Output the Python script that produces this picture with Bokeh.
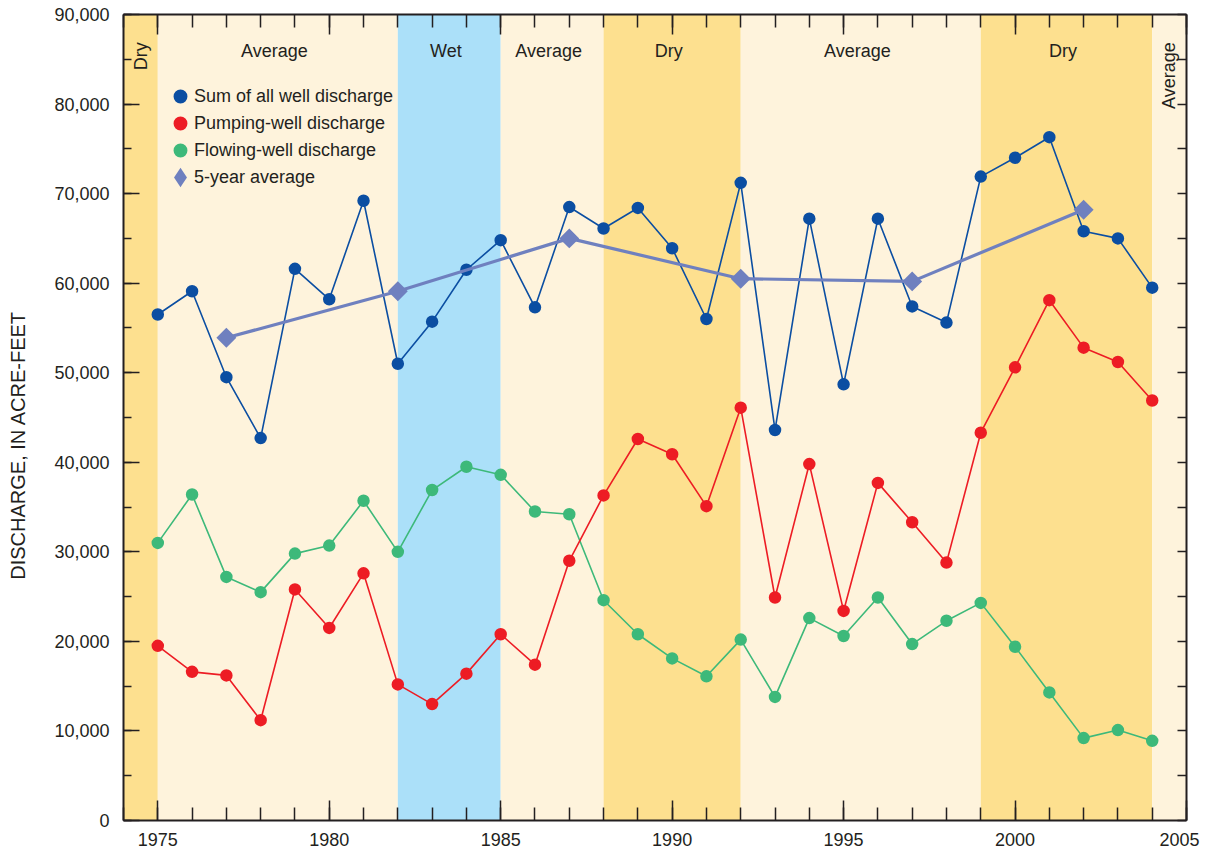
import math
from bokeh.plotting import figure
from bokeh.models import (Range1d, LinearAxis, SingleIntervalTicker, NumeralTickFormatter,
                          Legend, LegendItem, ColumnDataSource)
from bokeh.embed import file_html
from bokeh.resources import INLINE
from bokeh.core.properties import value

# ---------------- data ----------------
years = list(range(1975, 2005))
sum_discharge = [56500, 59100, 49500, 42700, 61600, 58200, 69200, 51000, 55700, 61500,
                 64800, 57300, 68500, 66100, 68400, 63900, 56000, 71200, 43600, 67200,
                 48700, 67200, 57400, 55600, 71900, 74000, 76300, 65800, 65000, 59500]
pumping = [19500, 16600, 16200, 11200, 25800, 21500, 27600, 15200, 13000, 16400,
           20800, 17400, 29000, 36300, 42600, 40900, 35100, 46100, 24900, 39800,
           23400, 37700, 33300, 28800, 43300, 50600, 58100, 52800, 51200, 46900]
flowing = [31000, 36400, 27200, 25500, 29800, 30700, 35700, 30000, 36900, 39500,
           38600, 34500, 34200, 24600, 20800, 18100, 16100, 20200, 13800, 22600,
           20600, 24900, 19700, 22300, 24300, 19400, 14300, 9200, 10100, 8900]
avg_years = [1977, 1982, 1987, 1992, 1997, 2002]
avg_values = [53900, 59100, 65000, 60500, 60200, 68200]

band_start = [1974, 1975, 1982, 1985, 1988, 1992, 1999, 2004]
band_end = [1975, 1982, 1985, 1988, 1992, 1999, 2004, 2005]
band_kind = ["Dry", "Average", "Wet", "Average", "Dry", "Average", "Dry", "Average"]

y_title = "DISCHARGE, IN ACRE-FEET"

# ---------------- style ----------------
FONT = "Liberation Sans"
FS = "18px"
DARK = "#231F20"
BLUE = "#0B4EA2"
RED = "#ED1C24"
GREEN = "#3DB97A"
AVG = "#6F80BF"
BAND_COLORS = {"Dry": "#FDE08F", "Average": "#FEF3DC", "Wet": "#ABE0F9"}
NBSP = "\u00a0"

p = figure(width=1204, height=852, x_range=Range1d(1974, 2005), y_range=Range1d(0, 90000),
           output_backend="svg", toolbar_location=None, x_axis_type=None, y_axis_type=None,
           min_border_left=123, min_border_right=18, min_border_top=14, min_border_bottom=30)
p.outline_line_color = None
p.background_fill_color = "white"
p.border_fill_color = "white"

# bands
band_src = ColumnDataSource(dict(
    left=band_start, right=band_end,
    color=[BAND_COLORS[k] for k in band_kind]))
p.quad(left="left", right="right", bottom=0, top=90000, fill_color="color",
       line_color=None, source=band_src)

# band labels
hx, hl, vx, vl = [], [], [], []
for s, e, k in zip(band_start, band_end, band_kind):
    c = (s + e) / 2
    if e - s <= 1:
        vx.append(c); vl.append(k)
    else:
        hx.append(c - 0.1); hl.append(k)
p.text(x=hx, y=[85950] * len(hx), text=hl, text_align="center", text_baseline="alphabetic",
       text_font=value(FONT), text_font_size=FS, text_color=DARK)
p.text(x=vx, y=[86900] * len(vx), text=vl, angle=math.pi / 2, text_align="right",
       text_baseline="middle", text_font=value(FONT), text_font_size=FS, text_color=DARK)

# series
def series(y, color):
    p.line(years, y, line_color=color, line_width=1.6)
    return p.scatter(years, y, marker="circle", size=9, fill_color=color,
                     line_color=color, line_width=3.5)

r_flow = series(flowing, GREEN)
r_pump = series(pumping, RED)
r_sum = series(sum_discharge, BLUE)

p.line(avg_years, avg_values, line_color=AVG, line_width=3.2)
# diamond used for the legend key (hidden beneath the rotated squares)
r_avg_key = p.scatter(avg_years, avg_values, marker="diamond", size=9, fill_color=AVG,
                      line_color=AVG, line_width=5, line_join="miter")
p.scatter(avg_years, avg_values, marker="square", angle=math.pi / 4, size=10.6,
          fill_color=AVG, line_color=AVG, line_width=3.5, line_join="miter")

# axes
def style_axis(ax, tick_in, minor_in, show_labels):
    ax.axis_line_color = DARK
    ax.axis_line_width = 2
    ax.major_tick_line_color = DARK
    ax.minor_tick_line_color = DARK
    ax.major_tick_line_width = 1.5
    ax.minor_tick_line_width = 1.5
    ax.major_tick_in = tick_in
    ax.major_tick_out = 0
    ax.minor_tick_in = minor_in
    ax.minor_tick_out = 0
    ax.major_label_text_font = FONT
    ax.major_label_text_font_size = FS
    if show_labels:
        ax.major_label_text_color = DARK
    else:
        ax.major_label_text_color = None
        ax.major_label_standoff = 0

xb = LinearAxis(ticker=SingleIntervalTicker(interval=5, num_minor_ticks=5))
style_axis(xb, 20, 13, True)
xb.major_label_standoff = 9
xb.major_label_overrides = {2005: "2005" + NBSP}
p.add_layout(xb, "below")

xt = LinearAxis(ticker=SingleIntervalTicker(interval=5, num_minor_ticks=5))
style_axis(xt, 20, 13, False)
p.add_layout(xt, "above")

yl = LinearAxis(ticker=SingleIntervalTicker(interval=10000, num_minor_ticks=2),
                formatter=NumeralTickFormatter(format="0,0"))
style_axis(yl, 16, 8, True)
yl.major_label_standoff = 14
yl.axis_label = y_title + NBSP * 10
yl.axis_label_standoff = 22
yl.axis_label_text_font = FONT
yl.axis_label_text_font_size = "20px"
yl.axis_label_text_font_style = "normal"
yl.axis_label_text_color = DARK
p.add_layout(yl, "left")

yr = LinearAxis(ticker=SingleIntervalTicker(interval=5000, num_minor_ticks=0))
style_axis(yr, 9, 0, False)
p.add_layout(yr, "right")

legend = Legend(items=[
    LegendItem(label="Sum of all well discharge", renderers=[r_sum]),
    LegendItem(label="Pumping-well discharge", renderers=[r_pump]),
    LegendItem(label="Flowing-well discharge", renderers=[r_flow]),
    LegendItem(label="5-year average", renderers=[r_avg_key]),
], location=(44, 630), glyph_width=26, glyph_height=26, spacing=1, padding=0, margin=0,
   label_standoff=1, label_text_font=FONT, label_text_font_size=FS,
   label_text_color=DARK, background_fill_alpha=0, border_line_color=None)
p.add_layout(legend)

open("out.html", "w").write(file_html(p, INLINE))
